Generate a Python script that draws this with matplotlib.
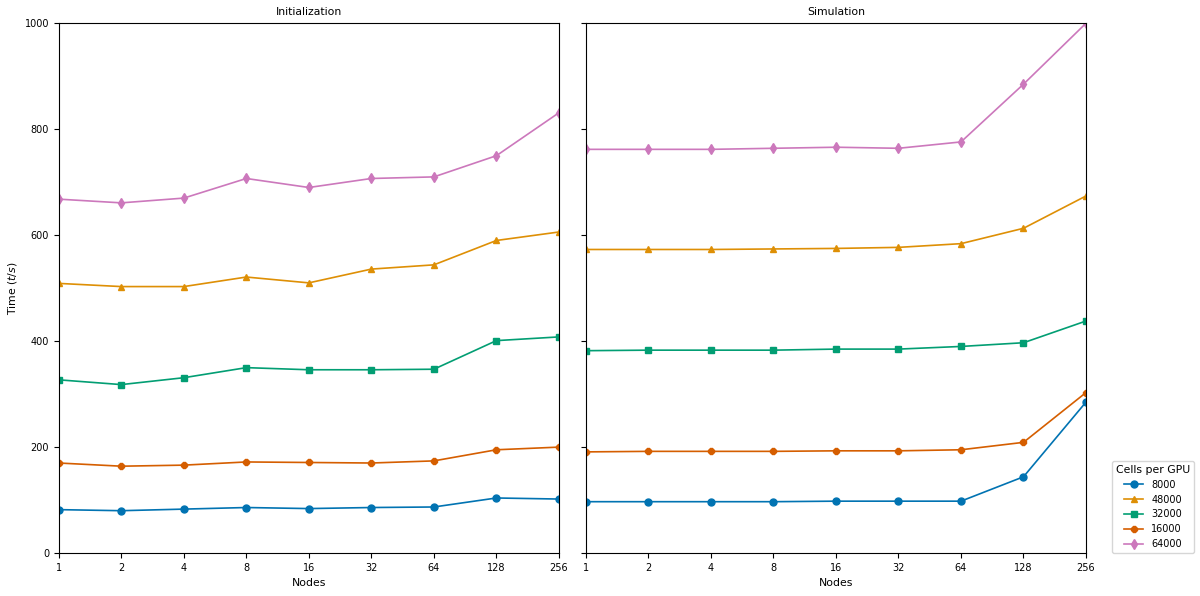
import matplotlib
matplotlib.use("Agg")
import matplotlib.pyplot as plt

nodes = [1, 2, 4, 8, 16, 32, 64, 128, 256]
cells = ["8000", "48000", "32000", "16000", "64000"]
colors = ["#0173b2", "#de8f05", "#029e73", "#d55e00", "#cc78bc"]
markers = ["o", "^", "s", "8", "d"]

init_8000 = [82, 80, 83, 86, 84, 86, 87, 104, 102]
init_48000 = [509, 503, 503, 521, 510, 536, 544, 590, 606]
init_32000 = [327, 318, 331, 350, 346, 346, 347, 401, 408]
init_16000 = [170, 164, 166, 172, 171, 170, 174, 195, 200]
init_64000 = [668, 661, 670, 707, 690, 707, 710, 750, 831]

sim_8000 = [97, 97, 97, 97, 98, 98, 98, 144, 285]
sim_48000 = [573, 573, 573, 574, 575, 577, 584, 613, 674]
sim_32000 = [382, 383, 383, 383, 385, 385, 390, 397, 438]
sim_16000 = [191, 192, 192, 192, 193, 193, 195, 209, 303]
sim_64000 = [762, 762, 762, 764, 766, 764, 776, 885, 1000]

init = [init_8000, init_48000, init_32000, init_16000, init_64000]
sim = [sim_8000, sim_48000, sim_32000, sim_16000, sim_64000]

fig, axes = plt.subplots(1, 2, figsize=(12, 5.96), dpi=100, sharey=True)
fig.subplots_adjust(left=0.049, right=0.905, bottom=0.072, top=0.961, wspace=0.054)

for ax, data, title in zip(axes, [init, sim], ["Initialization", "Simulation"]):
    for lab, ys, c, m in zip(cells, data, colors, markers):
        ax.plot(nodes, ys, color=c, marker=m, markersize=5, linewidth=1.2, label=lab)
    ax.set_xscale("log", base=2)
    ax.set_xticks(nodes)
    ax.set_xticklabels([str(n) for n in nodes])
    ax.minorticks_off()
    ax.set_xlim(1, 256)
    ax.set_ylim(0, 1000)
    ax.set_yticks([0, 200, 400, 600, 800, 1000])
    ax.set_title(title, fontsize=7.8)
    ax.set_xlabel("Nodes", fontsize=7.8)
    ax.tick_params(labelsize=7)

axes[0].set_ylabel("Time ($t/s$)", fontsize=7.8)
axes[1].legend(title="Cells per GPU", loc="lower left", bbox_to_anchor=(1.052, 0.0),
               borderaxespad=0, fontsize=7, title_fontsize=7.8)

fig.savefig("out.png", dpi=100)
